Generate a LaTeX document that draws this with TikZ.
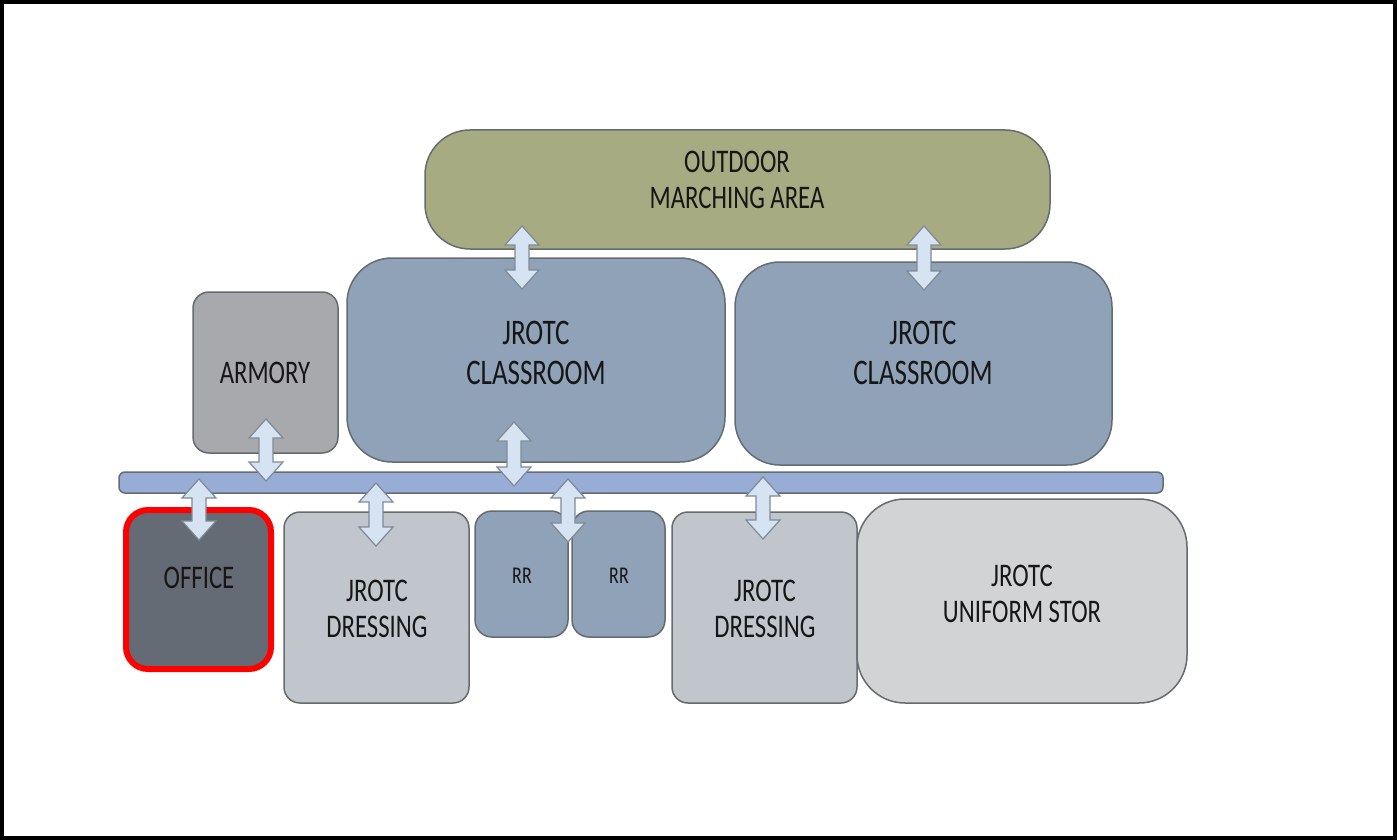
\documentclass[tikz,border=0pt]{standalone}
\usepackage{fontspec}
\setmainfont[FakeStretch=0.75]{Carlito}

\definecolor{fieldgreen}{HTML}{A6AB82}
\definecolor{classblue}{HTML}{8FA2B8}
\definecolor{armorygray}{HTML}{A8A9AD}
\definecolor{hallblue}{HTML}{97ADD6}
\definecolor{officegray}{HTML}{656B74}
\definecolor{dressgray}{HTML}{C0C6CB}
\definecolor{storgray}{HTML}{D2D3D5}
\definecolor{roomline}{HTML}{666B6F}
\definecolor{arrowfill}{HTML}{D5E3F2}
\definecolor{arrowline}{HTML}{7F8A96}
\definecolor{inktext}{HTML}{161616}

\tikzset{
  room/.style={draw=roomline, line width=1.5pt},
  roomtext/.style={align=center, text=inktext, inner sep=0pt,
    font=\fontsize{33}{36}\selectfont},
  arrowbox/.style={draw=arrowline, fill=arrowfill, line width=1.2pt}
}

% double arrow between two rooms: x, top y, bottom y
\newcommand{\roomarrow}[3]{%
  \filldraw[arrowbox] (#1,#2) -- ++(17,19) -- ++(-10,0) -- (#1+7,#3-19)
    -- ++(10,0) -- (#1,#3) -- ++(-17,-19) -- ++(10,0) -- (#1-7,#2+19)
    -- ++(-10,0) -- cycle;}

\begin{document}
\begin{tikzpicture}[x=1pt,y=-1pt]
  \useasboundingbox (0,0) rectangle (1397,840);
  % frame
  \draw[line width=4pt] (2,2) rectangle (1395,838);
  % outdoor marching area
  \draw[room, fill=fieldgreen, rounded corners=45pt] (425,130) rectangle (1050,249);
  \node[roomtext] (march) at (737,180) {OUTDOOR\\MARCHING AREA};
  % classrooms
  \draw[room, fill=classblue, rounded corners=45pt] (347,258) rectangle (725,462);
  \node[roomtext, font=\fontsize{36}{40}\selectfont] (class1) at (536,353) {JROTC\\CLASSROOM};
  \draw[room, fill=classblue, rounded corners=45pt] (735,262) rectangle (1112,465);
  \node[roomtext, font=\fontsize{36}{40}\selectfont] (class2) at (923,353) {JROTC\\CLASSROOM};
  % armory
  \draw[room, fill=armorygray, rounded corners=16pt] (193,292) rectangle (338,453);
  \node[roomtext] (armory) at (265,373) {ARMORY};
  % corridor
  \draw[room, fill=hallblue, rounded corners=6pt] (119,472) rectangle (1163,493);
  % office
  \draw[draw=red, line width=6pt, fill=officegray, rounded corners=22pt] (126,510) rectangle (271,669);
  \node[roomtext] (office) at (199,578) {OFFICE};
  % dressing rooms
  \draw[room, fill=dressgray, rounded corners=16pt] (284,512) rectangle (469,703);
  \node[roomtext] (dress1) at (377,609) {JROTC\\DRESSING};
  \draw[room, fill=dressgray, rounded corners=16pt] (672,512) rectangle (857,703);
  \node[roomtext] (dress2) at (765,609) {JROTC\\DRESSING};
  % restrooms
  \draw[room, fill=classblue, rounded corners=17pt] (475,511) rectangle (568,637);
  \node[roomtext, font=\fontsize{24}{26}\selectfont] (rr1) at (522,576) {RR};
  \draw[room, fill=classblue, rounded corners=17pt] (572,511) rectangle (665,637);
  \node[roomtext, font=\fontsize{24}{26}\selectfont] (rr2) at (619,576) {RR};
  % uniform storage
  \draw[room, fill=storgray, rounded corners=48pt] (857,499) rectangle (1187,703);
  \node[roomtext] (stor) at (1022,594) {JROTC\\UNIFORM STOR};
  % arrows
  \roomarrow{522}{226}{289}
  \roomarrow{924}{226}{290}
  \roomarrow{266}{419}{481}
  \roomarrow{514}{422}{486}
  \roomarrow{199}{479}{540}
  \roomarrow{376}{483}{546}
  \roomarrow{568}{479}{542}
  \roomarrow{763}{477}{539}
\end{tikzpicture}
\end{document}
